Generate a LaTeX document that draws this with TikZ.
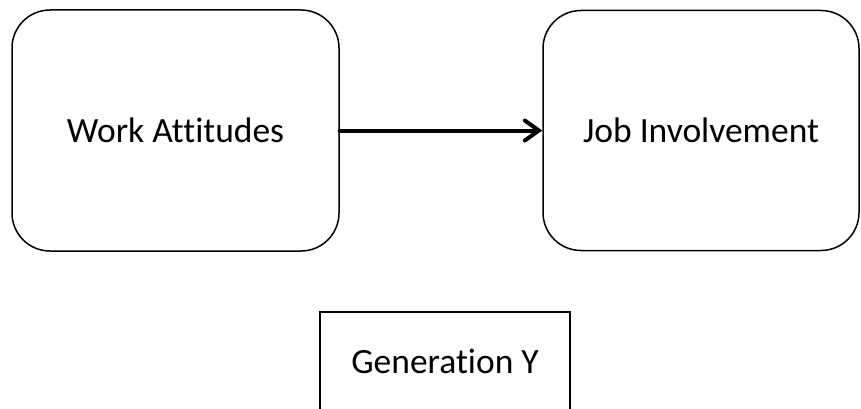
\documentclass[tikz,border=0pt]{standalone}
\usepackage{fontspec}
\setmainfont{Carlito}[RawFeature={-liga;-clig}]
\usetikzlibrary{arrows.meta}
\tikzset{
  roundbox/.style={draw=black, line width=1.5pt, rounded corners=38pt, inner sep=0pt,
    font=\fontsize{35.5}{40}\selectfont},
  plainbox/.style={draw=black, line width=1.5pt, inner sep=0pt,
    font=\fontsize{35.5}{40}\selectfont},
  link/.style={line width=4pt, line cap=round, -{Straight Barb[length=14pt, width=20pt, line cap=round]}}
}
\begin{document}
\begin{tikzpicture}[x=1pt, y=1pt]
\useasboundingbox (0,0) rectangle (861,408);
\node[roundbox, minimum width=327pt, minimum height=241pt] (wa) at (175.5,277.5) {Work Attitudes};
\node[roundbox, minimum width=316pt, minimum height=240pt] (ji) at (701,277.5) {Job Involvement};
\node[plainbox, minimum width=250pt, minimum height=98pt] (gy) at (445,47) {Generation Y};
\draw[link] (wa.east) -- (ji.west);
\end{tikzpicture}
\end{document}
